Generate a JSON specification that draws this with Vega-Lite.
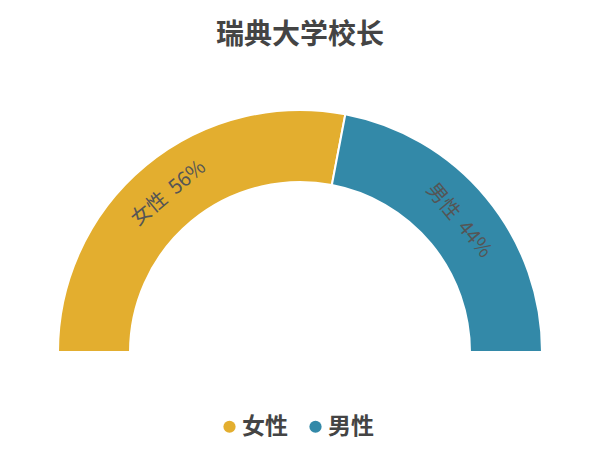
{
  "$schema": "https://vega.github.io/schema/vega-lite/v6.json",
  "width": 600,
  "height": 282,
  "padding": {"top": 22, "left": 0, "right": 0, "bottom": 10},
  "background": "white",
  "title": {
    "text": "瑞典大学校长",
    "font": "Noto Sans CJK SC",
    "fontSize": 28,
    "fontWeight": "bold",
    "color": "#444444",
    "anchor": "middle",
    "offset": 20
  },
  "data": {
    "values": [
      {"gender": "女性", "share": 56, "rank": 1},
      {"gender": "男性", "share": 44, "rank": 2}
    ]
  },
  "transform": [
    {"joinaggregate": [{"op": "sum", "field": "share", "as": "total"}]},
    {"window": [{"op": "sum", "field": "share", "as": "cum"}], "sort": [{"field": "rank"}]},
    {"calculate": "-90 + 180 * (datum.cum - datum.share / 2) / datum.total", "as": "mid"},
    {"calculate": "datum.gender + '\u00a0\u00a0' + datum.share + '%'", "as": "label"}
  ],
  "encoding": {
    "theta": {"field": "share", "type": "quantitative", "stack": true, "scale": {"range": [-1.5708, 1.5708]}},
    "order": {"field": "rank", "type": "quantitative"},
    "color": {
      "field": "gender",
      "type": "nominal",
      "sort": ["女性", "男性"],
      "scale": {"domain": ["女性", "男性"], "range": ["#E3AE2F", "#3389A8"]},
      "legend": {
        "orient": "none",
        "legendX": 218,
        "legendY": 345,
        "direction": "horizontal",
        "title": null,
        "symbolType": "circle",
        "symbolSize": 150,
        "symbolStrokeWidth": 0,
        "labelFont": "Noto Sans CJK SC",
        "labelFontSize": 23,
        "labelFontWeight": "bold",
        "labelColor": "#444444",
        "columnPadding": 16,
        "labelOffset": 1
      }
    }
  },
  "layer": [
    {
      "mark": {"type": "arc", "y": "height", "radius": 242, "innerRadius": 170, "stroke": "white", "strokeWidth": 2}
    },
    {
      "mark": {"type": "text", "y": "height", "radius": 206, "font": "Noto Sans CJK SC", "fontSize": 20, "color": "#555555"},
      "encoding": {
        "text": {"field": "label", "type": "nominal"},
        "angle": {"field": "mid", "type": "quantitative", "scale": null},
        "color": {"value": "#555555"}
      }
    }
  ],
  "config": {"view": {"stroke": null}}
}
